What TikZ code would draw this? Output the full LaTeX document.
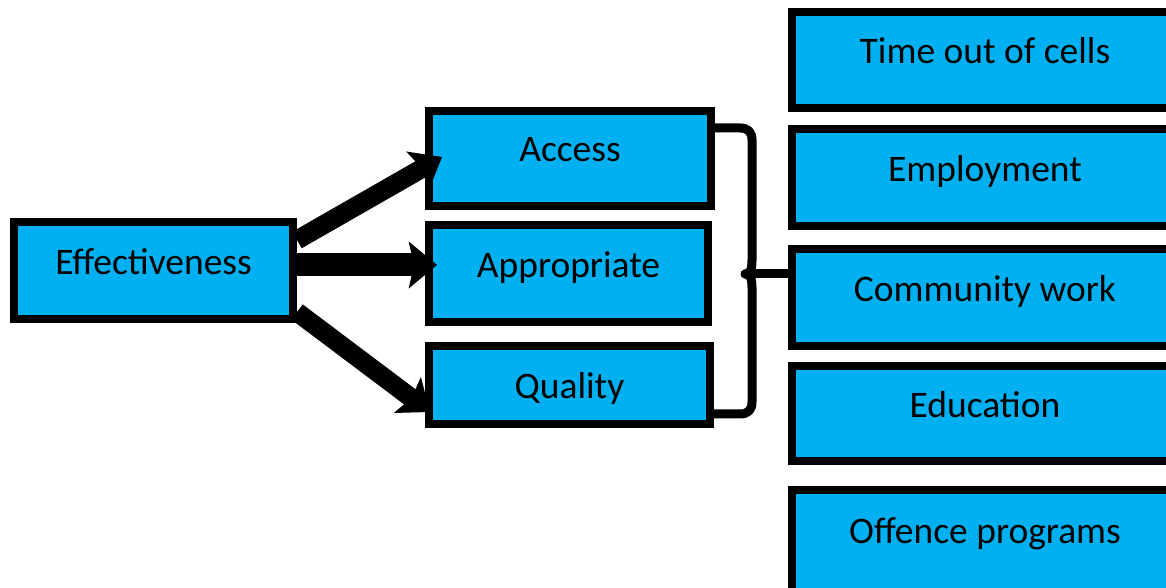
\documentclass[tikz,border=0pt]{standalone}
\usepackage{fontspec}
\setmainfont{Carlito}
\usetikzlibrary{arrows.meta}
\definecolor{boxblue}{HTML}{00B0F0}
\begin{document}
\begin{tikzpicture}[x=1pt,y=1pt,
  box/.style={draw=black, line width=8pt, fill=boxblue, rectangle,
    inner sep=0pt, font=\fontsize{37.5}{40}\selectfont, text=black},
  arr/.style={draw=black, line width=19pt,
    -{Stealth[length=28pt,width=44pt,inset=5pt]}},
  brace/.style={draw=black, line width=9pt, line cap=round, line join=round}]
\useasboundingbox (0,0) rectangle (1166,588);
\clip (0,0) rectangle (1166,588);

% left column
\node[box, minimum width=279pt, minimum height=97pt] (eff) at (153.5,317.5) {\raisebox{18pt}{Effectiveness}};

% middle column
\node[box, minimum width=282pt, minimum height=95pt] (acc) at (570,429.5) {\raisebox{19pt}{Access}};
\node[box, minimum width=279pt, minimum height=97pt] (app) at (568.5,314.5) {\raisebox{18pt}{Appropriate}};
\node[box, minimum width=281pt, minimum height=78pt] (qua) at (569.5,203) {\raisebox{0pt}[\dimexpr\height+8pt\relax]{Quality}};

% right column
\node[box, minimum width=386pt, minimum height=96pt] (time) at (985,528) {\raisebox{19pt}{Time out of cells}};
\node[box, minimum width=386pt, minimum height=97pt] (emp) at (985,410.5) {\raisebox{18pt}{Employment}};
\node[box, minimum width=386pt, minimum height=97pt] (com) at (985,290.5) {\raisebox{18pt}{Community work}};
\node[box, minimum width=386pt, minimum height=95pt] (edu) at (985,174.5) {\raisebox{18pt}{Education}};
\node[box, minimum width=386pt, minimum height=102pt] (off) at (985,47) {\raisebox{20pt}{Offence programs}};

% arrows from Effectiveness
\draw[arr] ([yshift=30.5pt]eff.east) -- ([xshift=17pt,yshift=1.5pt]acc.west);
\draw[arr, line width=23pt, -{Stealth[length=28pt,width=46pt,inset=5pt]}]
  ([yshift=5.5pt]eff.east) -- ([xshift=12pt,yshift=8.5pt]app.west);
\draw[arr] ([yshift=-41.5pt]eff.east) -- ([xshift=5pt,yshift=-27pt]qua.west);

% brace grouping Access, Appropriate and Quality
\coordinate (tip) at (745,314);
\draw[brace] ([yshift=30.5pt]acc.east) -- (740,460)
  .. controls (748,460) and (752,456) .. (752,448)
  -- (752,328)
  .. controls (752,318) and (750,314) .. (tip)
  .. controls (750,314) and (752,310) .. (752,300)
  -- (752,186)
  .. controls (752,178) and (748,174) .. (740,174)
  -- ([yshift=-29pt]qua.east);
\draw[brace, line cap=butt] (tip) -- (com.west |- tip);
\end{tikzpicture}
\end{document}
